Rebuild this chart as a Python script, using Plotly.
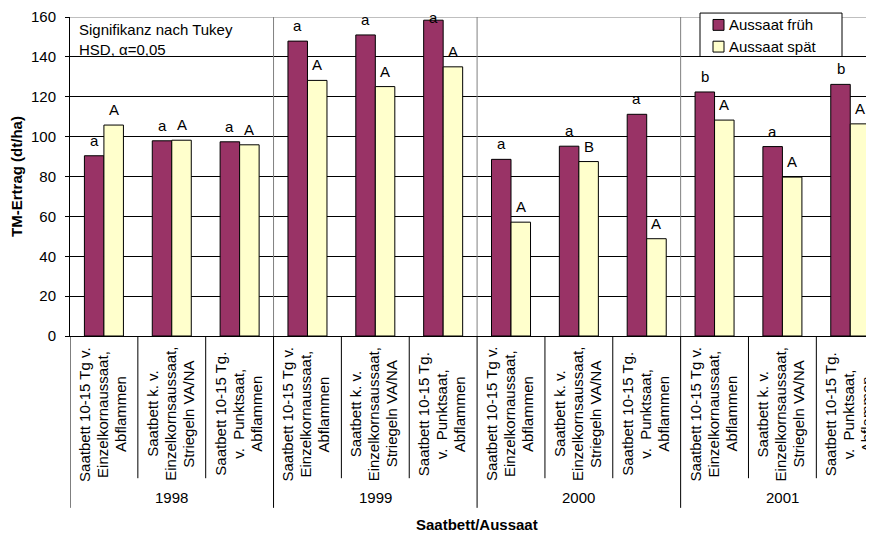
import plotly.graph_objects as go

years = ["1998", "1999", "2000", "2001"]
categories = [
    ["Saatbett 10-15 Tg v.", "Einzelkornaussaat,", "Abflammen"],
    ["Saatbett k. v.", "Einzelkornsaussaat,", "Striegeln VA/NA"],
    ["Saatbett 10-15 Tg.", "v.  Punktsaat,", "Abflammen"],
]
series_names = ["Aussaat früh", "Aussaat spät"]
frueh = [90.4, 97.9, 97.4, 147.9, 151.0, 158.4, 88.6, 95.2, 111.2, 122.4, 95.0, 126.2]
spaet = [105.8, 98.2, 95.9, 128.2, 125.1, 135.0, 57.1, 87.5, 48.8, 108.3, 79.7, 106.4]
letters_frueh = ["a", "a", "a", "a", "a", "a", "a", "a", "a", "b", "a", "b"]
letters_spaet = ["A", "A", "A", "A", "A", "A", "A", "B", "A", "A", "A", "A"]
y_ticks = [0, 20, 40, 60, 80, 100, 120, 140, 160]

FONT = "Liberation Sans, Arial, sans-serif"
C_FRUEH = "#993366"
C_SPAET = "#FFFFCC"

n = len(frueh)
xs = list(range(n))

# page geometry (browser body has 8px margin)
OFF = 8
W, H = 874 - OFF, 538 - OFF
PL, PR = 70, 874           # plot left/right in page px
PTOP, PBOT = 13, 336       # plot top/bottom in page px
def py2paper(py):
    return (PBOT - py) / (PBOT - PTOP)
def px2paper(px):
    return (px - PL) / (PR - PL)

fig = go.Figure()
fig.add_trace(go.Bar(x=xs, y=frueh, name=series_names[0], showlegend=False,
                     marker=dict(color=C_FRUEH, line=dict(color="black", width=1))))
fig.add_trace(go.Bar(x=xs, y=spaet, name=series_names[1], showlegend=False,
                     marker=dict(color=C_SPAET, line=dict(color="black", width=1))))

bargap = 0.425
off = (1 - bargap) / 4
annotations = []
for i in range(n):
    for v, lab, dx in ((frueh[i], letters_frueh[i], -off), (spaet[i], letters_spaet[i], off)):
        annotations.append(dict(x=i + dx, y=min(v, 152), xref="x", yref="y", text=lab,
                                showarrow=False, yanchor="bottom", yshift=5,
                                font=dict(family=FONT, size=15, color="black")))

# category labels below axis (one annotation per line, 18px line spacing)
for i in range(n):
    lines = categories[i % 3]
    for j, line in enumerate(lines):
        annotations.append(dict(x=i, y=py2paper(415), xref="x", yref="paper",
                                text=line, textangle=-90, showarrow=False,
                                xanchor="center", yanchor="middle",
                                xshift=(j - 1) * 18 - 2,
                                font=dict(family=FONT, size=15, color="black")))
# year labels
for g, yr in enumerate(years):
    annotations.append(dict(x=g * 3 + 1, y=py2paper(500), xref="x", yref="paper",
                            text=yr, showarrow=False, xanchor="center", yanchor="middle",
                            font=dict(family=FONT, size=15, color="black")))
# significance note
annotations.append(dict(x=px2paper(77), y=py2paper(15), xref="paper", yref="paper",
                        text="Signifikanz nach Tukey<br>HSD, α=0,05", showarrow=False,
                        xanchor="left", yanchor="top", align="left",
                        font=dict(family=FONT, size=15, color="black")))
# x axis title
annotations.append(dict(x=px2paper(477), y=py2paper(527), xref="paper", yref="paper",
                        text="<b>Saatbett/Aussaat</b>", showarrow=False,
                        xanchor="center", yanchor="middle",
                        font=dict(family=FONT, size=15, color="black")))

shapes = []
for i in range(n - 1):
    xb = i + 0.5
    if (i + 1) % 3 == 0:
        shapes.append(dict(type="line", xref="x", yref="paper", x0=xb, x1=xb,
                           y0=0, y1=1, line=dict(color="#808080", width=1)))
        shapes.append(dict(type="line", xref="x", yref="paper", x0=xb, x1=xb,
                           y0=py2paper(510), y1=0, line=dict(color="black", width=1)))
    else:
        shapes.append(dict(type="line", xref="x", yref="paper", x0=xb, x1=xb,
                           y0=py2paper(480), y1=0, line=dict(color="black", width=1)))
shapes.append(dict(type="line", xref="x", yref="paper", x0=-0.5, x1=-0.5,
                   y0=py2paper(510), y1=0, line=dict(color="black", width=1)))
shapes.append(dict(type="line", xref="paper", yref="y", x0=0, x1=1, y0=160, y1=160,
                   line=dict(color="#808080", width=1)))

# legend (drawn manually to match box geometry)
LX0, LX1, LY0, LY1 = 700, 842, 9, 53
shapes.append(dict(type="rect", xref="paper", yref="paper",
                   x0=px2paper(LX0), x1=px2paper(LX1), y0=py2paper(LY1), y1=py2paper(LY0),
                   fillcolor="white", line=dict(color="black", width=1), layer="above"))
for k, (name, col) in enumerate(zip(series_names, [C_FRUEH, C_SPAET])):
    cy = 21 + 22 * k
    shapes.append(dict(type="rect", xref="paper", yref="paper",
                       x0=px2paper(713), x1=px2paper(724),
                       y0=py2paper(cy + 5.5), y1=py2paper(cy - 5.5),
                       fillcolor=col, line=dict(color="black", width=1), layer="above"))
    annotations.append(dict(x=px2paper(727), y=py2paper(cy), xref="paper", yref="paper",
                            text=name, showarrow=False, xanchor="left", yanchor="middle",
                            font=dict(family=FONT, size=15, color="black")))

fig.update_layout(
    width=W, height=H,
    margin=dict(l=PL - OFF, r=0, t=PTOP - OFF, b=(538 - OFF) - (PBOT - OFF), pad=0),
    paper_bgcolor="white", plot_bgcolor="white",
    barmode="group", bargap=bargap, bargroupgap=0,
    font=dict(family=FONT, size=15, color="black"),
    showlegend=False,
    xaxis=dict(range=[-0.5, 11.35], showticklabels=False, ticks="", showgrid=False,
               showline=True, linecolor="black", linewidth=1, zeroline=False,
               fixedrange=True),
    yaxis=dict(range=[0, 160], tickvals=y_ticks, showgrid=True, gridcolor="black",
               gridwidth=1, showline=True, linecolor="black", linewidth=1,
               ticks="outside", ticklen=4, tickcolor="black", zeroline=False,
               ticklabelstandoff=6, ticklabeloverflow="allow",
               tickfont=dict(family=FONT, size=15, color="black"),
               title=dict(text="<b>TM-Ertrag (dt/ha)</b>", standoff=6,
                          font=dict(family=FONT, size=15, color="black"))),
    annotations=annotations, shapes=shapes,
)

fig.write_html("out.html")
